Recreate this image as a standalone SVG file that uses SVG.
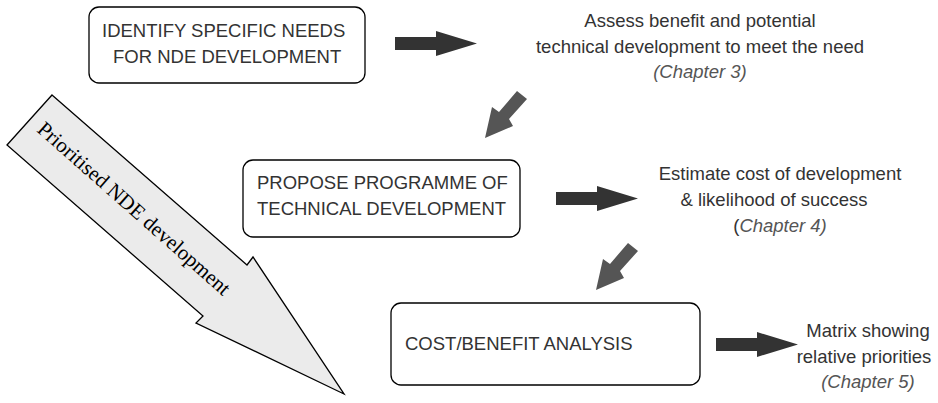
<svg xmlns="http://www.w3.org/2000/svg" width="938" height="403" viewBox="0 0 938 403">
<style>
.box{fill:#fff;stroke:#000;stroke-width:1.3}
.bt{font-family:"Liberation Sans",Arial,sans-serif;font-size:18.5px;fill:#333}
.lt{font-family:"Liberation Sans",Arial,sans-serif;font-size:18.5px;fill:#333;text-anchor:middle}
.ch{font-style:italic;fill:#555}
.dark{fill:#333}
.gray{fill:#555}
.big{fill:#ebebeb;stroke:#000;stroke-width:1.3;stroke-linejoin:miter}
.pt{font-family:"Liberation Serif","Times New Roman",serif;font-size:21px;fill:#000}
</style>
<defs>
<polygon id="rarrow" points="0,0 41,0 41,-6 82,6.5 41,19 41,13 0,13"/>
<polygon id="darrow" points="0,0 10,8 -8,28 -4,35 -32,47 -25,16 -18,21"/>
</defs>
<rect width="938" height="403" fill="#fff"/>
<g id="prioritised">
<polygon class="big" points="52,95 247,265 253,257 344,394 196,323 203,316 7,145"/>
<text class="pt" transform="translate(36,131) rotate(41.5)">Prioritised NDE development</text>
</g>
<g id="connectors">
<use href="#rarrow" class="dark" x="395" y="37"/>
<use href="#rarrow" class="dark" x="556" y="192"/>
<use href="#rarrow" class="dark" x="716" y="338"/>
<use href="#darrow" class="gray" x="517" y="91"/>
<use href="#darrow" class="gray" x="628" y="243"/>
</g>
<g id="identify">
<rect class="box" x="89" y="7" width="276" height="76" rx="10"/>
<text class="bt" x="102" y="37">IDENTIFY SPECIFIC NEEDS</text>
<text class="bt" x="113" y="63">FOR NDE DEVELOPMENT</text>
</g>
<g id="propose">
<rect class="box" x="243" y="160" width="277" height="77" rx="10"/>
<text class="bt" x="257" y="189">PROPOSE PROGRAMME OF</text>
<text class="bt" x="257" y="215">TECHNICAL DEVELOPMENT</text>
</g>
<g id="costbenefit">
<rect class="box" x="391" y="303" width="309" height="82" rx="10"/>
<text class="bt" x="405" y="350">COST/BENEFIT ANALYSIS</text>
</g>
<g id="assess">
<text class="lt" x="700" y="27">Assess benefit and potential</text>
<text class="lt" x="700" y="53">technical development to meet the need</text>
<text class="lt ch" x="700" y="78">(Chapter 3)</text>
</g>
<g id="estimate">
<text class="lt" x="780" y="180">Estimate cost of development</text>
<text class="lt" x="774" y="206">&amp; likelihood of success</text>
<text class="lt" x="780" y="232">(<tspan class="ch">Chapter 4)</tspan></text>
</g>
<g id="matrix">
<text class="lt" x="868" y="337">Matrix showing</text>
<text class="lt" x="864" y="363">relative priorities</text>
<text class="lt ch" x="868" y="388">(Chapter 5)</text>
</g>
</svg>
